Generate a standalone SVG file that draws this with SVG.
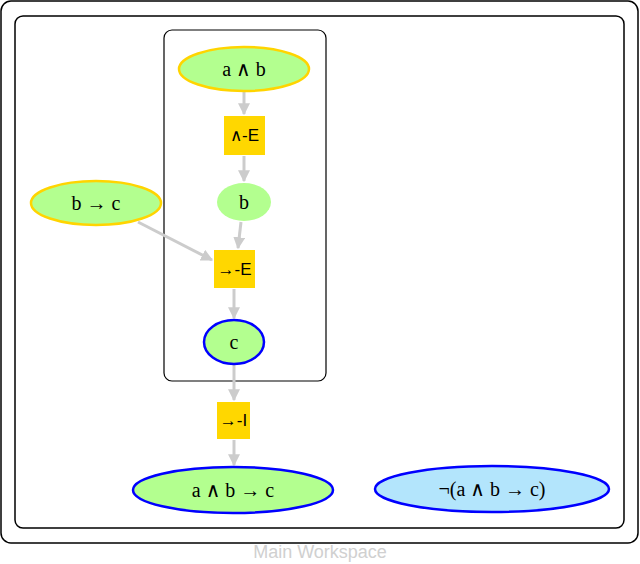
<svg xmlns="http://www.w3.org/2000/svg" width="640" height="564" viewBox="0 0 640 564">
<style>
.f{font-family:"Liberation Serif","DejaVu Serif",serif;font-size:20px;fill:#000;text-anchor:middle;dominant-baseline:central}
.r{font-family:"Liberation Sans",sans-serif;font-size:17px;fill:#000;text-anchor:middle;dominant-baseline:central}
.g{fill:#b3ff8f}
.y{stroke:#ffd400;stroke-width:2.5}
.b{stroke:#0000ff;stroke-width:2.5}
.rule{fill:#ffd700}
.e{stroke:#cccccc;stroke-width:3;fill:none;marker-end:url(#a)}
</style>
<defs><marker id="a" viewBox="0 0 10 10" refX="9" refY="5" markerWidth="4" markerHeight="4" orient="auto" markerUnits="strokeWidth"><path d="M0,0L10,5L0,10z" fill="#cccccc"/></marker></defs>
<rect x="1" y="1" width="637" height="542" rx="10" fill="#fff" stroke="#000" stroke-width="1.5"/>
<rect x="15" y="16" width="609" height="512" rx="8" fill="#fff" stroke="#000" stroke-width="1.5"/>
<rect x="164" y="30" width="162" height="351" rx="8" fill="none" stroke="#000" stroke-width="1.2"/>
<text x="320" y="552" style="font-family:'Liberation Sans',sans-serif;font-size:18px;fill:#d0d0d0;text-anchor:middle;dominant-baseline:central">Main Workspace</text>
<g id="edges">
<line class="e" x1="244" y1="92" x2="244" y2="114"/>
<line class="e" x1="244" y1="156" x2="244" y2="181"/>
<line class="e" x1="241" y1="222" x2="238" y2="248"/>
<line class="e" x1="138" y1="222" x2="212" y2="260"/>
<line class="e" x1="234" y1="289" x2="234" y2="318"/>
<line class="e" x1="234" y1="365" x2="234" y2="400"/>
<line class="e" x1="234" y1="440" x2="234" y2="465"/>
</g>
<g id="n1"><ellipse cx="244" cy="69" rx="65" ry="22" class="g y"/><text class="f" x="244" y="69">a ∧ b</text></g>
<g id="n2"><rect x="224" y="116" width="41" height="39" class="rule"/><text class="r" x="244.5" y="135.5">∧-E</text></g>
<g id="n3"><ellipse cx="244" cy="202" rx="27" ry="19" class="g"/><text class="f" x="244" y="202">b</text></g>
<g id="n4"><ellipse cx="96" cy="203" rx="65" ry="22" class="g y"/><text class="f" x="96" y="203">b → c</text></g>
<g id="n5"><rect x="214" y="250" width="41" height="38" class="rule"/><text class="r" x="234.5" y="269">→-E</text></g>
<g id="n6"><ellipse cx="234" cy="342" rx="30" ry="22" class="g b"/><text class="f" x="234" y="342">c</text></g>
<g id="n7"><rect x="217" y="402" width="33" height="37" class="rule"/><text class="r" x="233.5" y="420.5">→-I</text></g>
<g id="n8"><ellipse cx="233" cy="490" rx="100" ry="23" class="g b"/><text class="f" x="233" y="490">a ∧ b → c</text></g>
<g id="n9"><ellipse cx="492" cy="489" rx="117" ry="23" fill="#b3e5fc" class="b"/><text class="f" x="492" y="489">¬(a ∧ b → c)</text></g>
</svg>
